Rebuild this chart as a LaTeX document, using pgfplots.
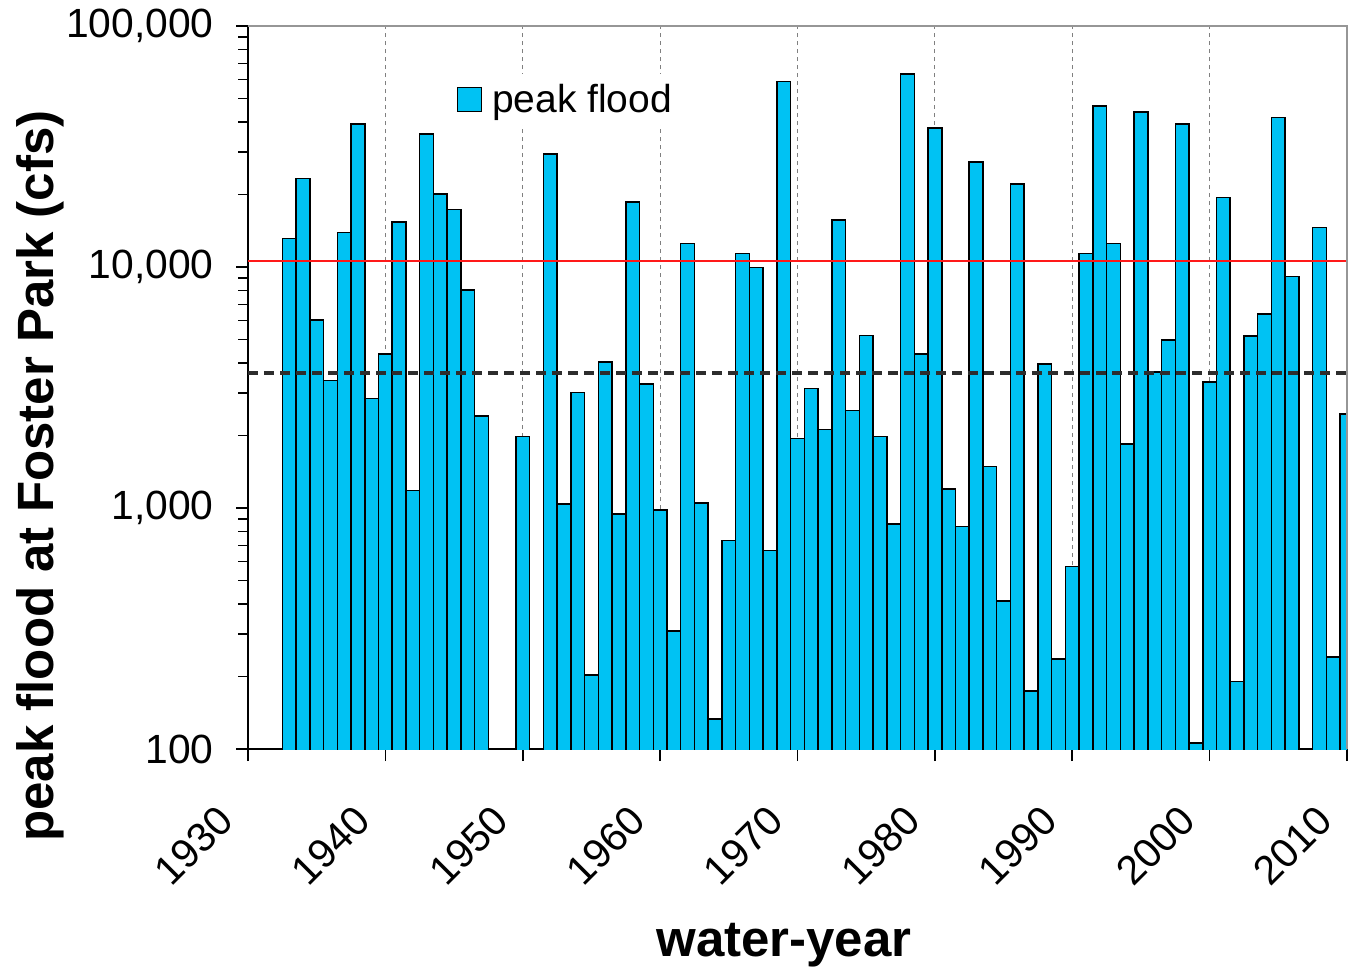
\documentclass[border=0pt]{standalone}
\usepackage{fontspec}
\setmainfont{Liberation Sans}
\usepackage{pgfplots}
\usepackage{pgfplotstable}
\pgfplotsset{compat=1.18}
\definecolor{barblue}{RGB}{0,194,243}
\definecolor{gridgray}{RGB}{128,128,128}
\definecolor{framegray}{RGB}{150,150,150}
\definecolor{medgray}{RGB}{45,45,45}
\pgfplotstableread{
year flow
1933 13100
1934 23300
1935 6040
1936 3380
1937 13900
1938 39200
1939 2850
1940 4360
1941 15400
1942 1180
1943 35700
1944 20100
1945 17300
1946 8040
1947 2410
1950 1980
1952 29400
1953 1040
1954 3010
1955 203
1956 4030
1957 946
1958 18600
1959 3270
1960 982
1961 309
1962 12500
1963 1050
1964 133
1965 733
1966 11380
1967 9940
1968 665
1969 58900
1970 1940
1971 3140
1972 2120
1973 15700
1974 2540
1975 5200
1976 1980
1977 858
1978 63100
1979 4360
1980 37800
1981 1200
1982 839
1983 27300
1984 1490
1985 411
1986 22100
1987 174
1988 3960
1989 236
1990 573
1991 11400
1992 46500
1993 12500
1994 1840
1995 44000
1996 3660
1997 4970
1998 39200
1999 106
2000 3330
2001 19400
2002 191
2003 5180
2004 6380
2005 41800
2006 9150
2008 14600
2009 241
2010 2450
}\floods
\begin{document}
\begin{tikzpicture}
\begin{axis}[
  scale only axis,
  width=549.5pt, height=361.5pt,
  ymode=log, ymin=100, ymax=100000,
  xmin=1930, xmax=2010,
  axis lines*=left,
  axis line style={black, line width=0.8pt},
  tick style={black, line width=0.8pt},
  tick align=outside,
  major tick length=6pt,
  minor tick length=5pt,
  xtick={1930,1940,1950,1960,1970,1980,1990,2000,2010},
  xticklabels={1930,1940,1950,1960,1970,1980,1990,2000,2010},
  ytick={100,1000,10000,100000},
  yticklabels={100,{1,000},{10,000},{100,000}},
  minor ytick={200,300,400,500,600,700,800,900,2000,3000,4000,5000,6000,7000,8000,9000,20000,30000,40000,50000,60000,70000,80000,90000},
  xmajorgrids=true,
  major x grid style={gridgray, line width=0.6pt, dash pattern=on 2pt off 2pt},
  ticklabel style={font=\fontsize{20.4}{24}\selectfont},
  yticklabel style={inner sep=0pt, xshift=-11pt},
  xticklabel style={inner sep=0pt, yshift=-26pt, xshift=-11pt, anchor=east, rotate=45},
  label style={font=\fontsize{25.5}{30}\selectfont\bfseries},
  xlabel={water-year},
  ylabel={peak flood at Foster Park (cfs)},
  xlabel style={at={(axis description cs:0.4877,-0.271)}, anchor=center},
  ylabel style={at={(axis description cs:-0.1893,0.3776)}, anchor=center},
  legend style={at={(axis description cs:0.184,0.934)}, anchor=north west,
    draw=none, fill=white, font=\fontsize{19.5}{22}\selectfont,
    inner xsep=3pt, inner ysep=3pt,
    nodes={inner xsep=5pt}},
  legend cell align=left,
]
\addplot[ybar, bar width=1, fill=barblue, draw=black, line width=0.75pt,
  legend image code/.code={\draw[fill=barblue, draw=black, line width=0.75pt] (0pt,-6pt) rectangle (12pt,6pt);}]
  table[x=year, y=flow] {\floods};
\addlegendentry{peak flood}
\addplot[forget plot, red!90!white, line width=0.75pt] coordinates {(1930,10600) (2010,10600)};
\addplot[forget plot, medgray, line width=2pt, dash pattern=on 5pt off 3pt] coordinates {(1930,3620) (2010,3620)};
\coordinate (SW) at (rel axis cs:0,0);
\coordinate (NE) at (rel axis cs:1,1);
\end{axis}
\draw[framegray, line width=0.8pt] (SW|-NE) -- (NE) -- (NE|-SW);
\pgfresetboundingbox
\path[use as bounding box] ([xshift=-124pt,yshift=-111.5pt]SW) rectangle ([xshift=1.5pt,yshift=13pt]NE);
\end{tikzpicture}
\end{document}
